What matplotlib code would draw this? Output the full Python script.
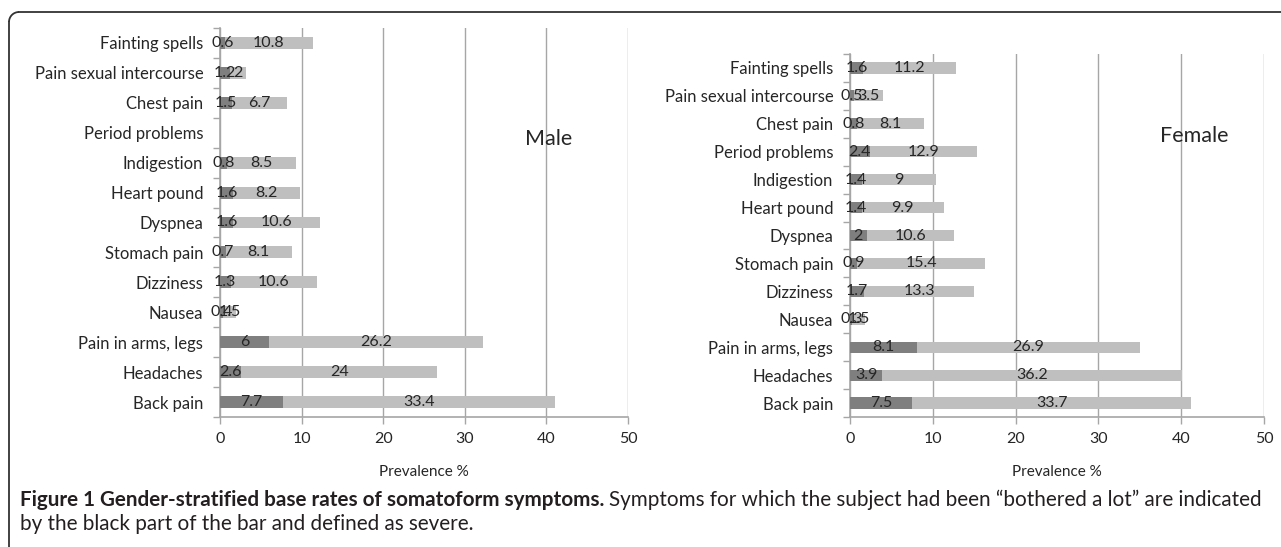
import numpy as np
import matplotlib
matplotlib.use('Agg')
import matplotlib.pyplot as plt
from matplotlib.patches import Arc

plt.rcParams['font.family'] = ['Lato', 'DejaVu Sans']

# categories from bottom to top (Excel order)
categories = ['Back pain', 'Headaches', 'Pain in arms, legs', 'Nausea', 'Dizziness',
              'Stomach pain', 'Dyspnea', 'Heart pound', 'Indigestion', 'Period problems',
              'Chest pain', 'Pain sexual intercourse', 'Fainting spells']
male_severe = [7.7, 2.6, 6, 0.4, 1.3, 0.7, 1.6, 1.6, 0.8, np.nan, 1.5, 1.2, 0.6]
male_other = [33.4, 24, 26.2, 1.5, 10.6, 8.1, 10.6, 8.2, 8.5, np.nan, 6.7, 2, 10.8]
female_severe = [7.5, 3.9, 8.1, 0.3, 1.7, 0.9, 2, 1.4, 1.4, 2.4, 0.8, 0.5, 1.6]
female_other = [33.7, 36.2, 26.9, 1.5, 13.3, 15.4, 10.6, 9.9, 9, 12.9, 8.1, 3.5, 11.2]
xticks = [0, 10, 20, 30, 40, 50]

caption_bold = 'Figure 1 Gender-stratified base rates of somatoform symptoms.'
caption_rest = 'Symptoms for which the subject had been \u201cbothered a lot\u201d are indicated'
caption_line2 = 'by the black part of the bar and defined as severe.'

W, H = 1281, 547
fig = plt.figure(figsize=(W / 100, H / 100), dpi=100)

dark = '#7f7f7f'
light = '#bfbfbf'
grid = '#a6a6a6'
txt = '#262626'


def px_axes(x0, y0, x1, y1):
    # pixel box (top-left origin) -> figure fraction
    return fig.add_axes([x0 / W, 1 - y1 / H, (x1 - x0) / W, (y1 - y0) / H])


def panel(ax, severe, other, title, title_x, title_y, h_px):
    y = np.arange(len(categories))
    sev = np.array(severe, dtype=float)
    oth = np.array(other, dtype=float)
    b1 = ax.barh(y, sev, height=0.4, color=dark, zorder=3)
    b2 = ax.barh(y, oth, left=sev, height=0.4, color=light, zorder=3)
    for cont, vals in ((b1, sev), (b2, oth)):
        labels = ['' if np.isnan(v) else '%g' % v for v in vals]
        ax.bar_label(cont, labels=labels, label_type='center', fontsize=11.5,
                     color=txt, zorder=4)
    ax.set_xlim(0, 50)
    ax.set_ylim(-0.5, len(categories) - 0.5)
    ax.set_xticks(xticks)
    ax.set_yticks(y)
    ax.set_yticklabels(categories)
    ax.set_yticks(np.arange(len(categories) + 1) - 0.5, minor=True)
    ax.tick_params(axis='y', which='major', length=0, pad=12, labelsize=12, labelcolor=txt)
    ax.tick_params(axis='y', which='minor', length=5, color=grid, width=1)
    ax.tick_params(axis='x', length=5, color=grid, width=1, pad=6, labelsize=11.5, labelcolor=txt)
    ax.grid(axis='x', color=grid, linewidth=1, zorder=0)
    for s in ('top', 'right'):
        ax.spines[s].set_visible(False)
    for s in ('left', 'bottom'):
        ax.spines[s].set_color(grid)
        ax.spines[s].set_linewidth(1.2)
    ax.set_xlabel('Prevalence %', fontsize=11, color=txt, va='center')
    ax.xaxis.set_label_coords(0.5, -(472 - 417) / h_px)
    ax.text(title_x, title_y, title, fontsize=15.5, color=txt, ha='center', va='center', zorder=5)


ax1 = px_axes(220, 28, 628, 417)
panel(ax1, male_severe, male_other, 'Male', 40.3, 8.8, 417 - 28)
ax2 = px_axes(850, 54, 1264, 417)
panel(ax2, female_severe, female_other, 'Female', 41.6, 9.55, 417 - 54)

# frame and caption in pixel coordinates
bg = fig.add_axes([0, 0, 1, 1], zorder=-1)
bg.set_xlim(0, W)
bg.set_ylim(H, 0)
bg.axis('off')
r = 10
bg.plot([9 + r, W], [12, 12], color='#333333', lw=1.3)
bg.plot([9, 9], [12 + r, H], color='#333333', lw=1.3)
bg.add_patch(Arc((9 + r, 12 + r), 2 * r, 2 * r, theta1=180, theta2=270, color='#333333', lw=1.3))

cap_font = ['Lato', 'DejaVu Sans']
x0, x1 = 20, 1262
size = 13
t1 = bg.text(x0, 506, caption_bold, fontsize=size, fontweight='bold', family=cap_font,
             color='#231f20', va='baseline')
t2 = bg.text(0, 506, caption_rest, fontsize=size, family=cap_font, color='#231f20', va='baseline')
t3 = bg.text(x0, 530, caption_line2, fontsize=size, family=cap_font, color='#231f20', va='baseline')
fig.canvas.draw()
gap = 5
total = t1.get_window_extent().width + t2.get_window_extent().width + gap
size = size * (x1 - x0) / total
for t in (t1, t2, t3):
    t.set_fontsize(size)
fig.canvas.draw()
t2.set_x(x0 + t1.get_window_extent().width + gap)

fig.savefig('out.png', dpi=100)
